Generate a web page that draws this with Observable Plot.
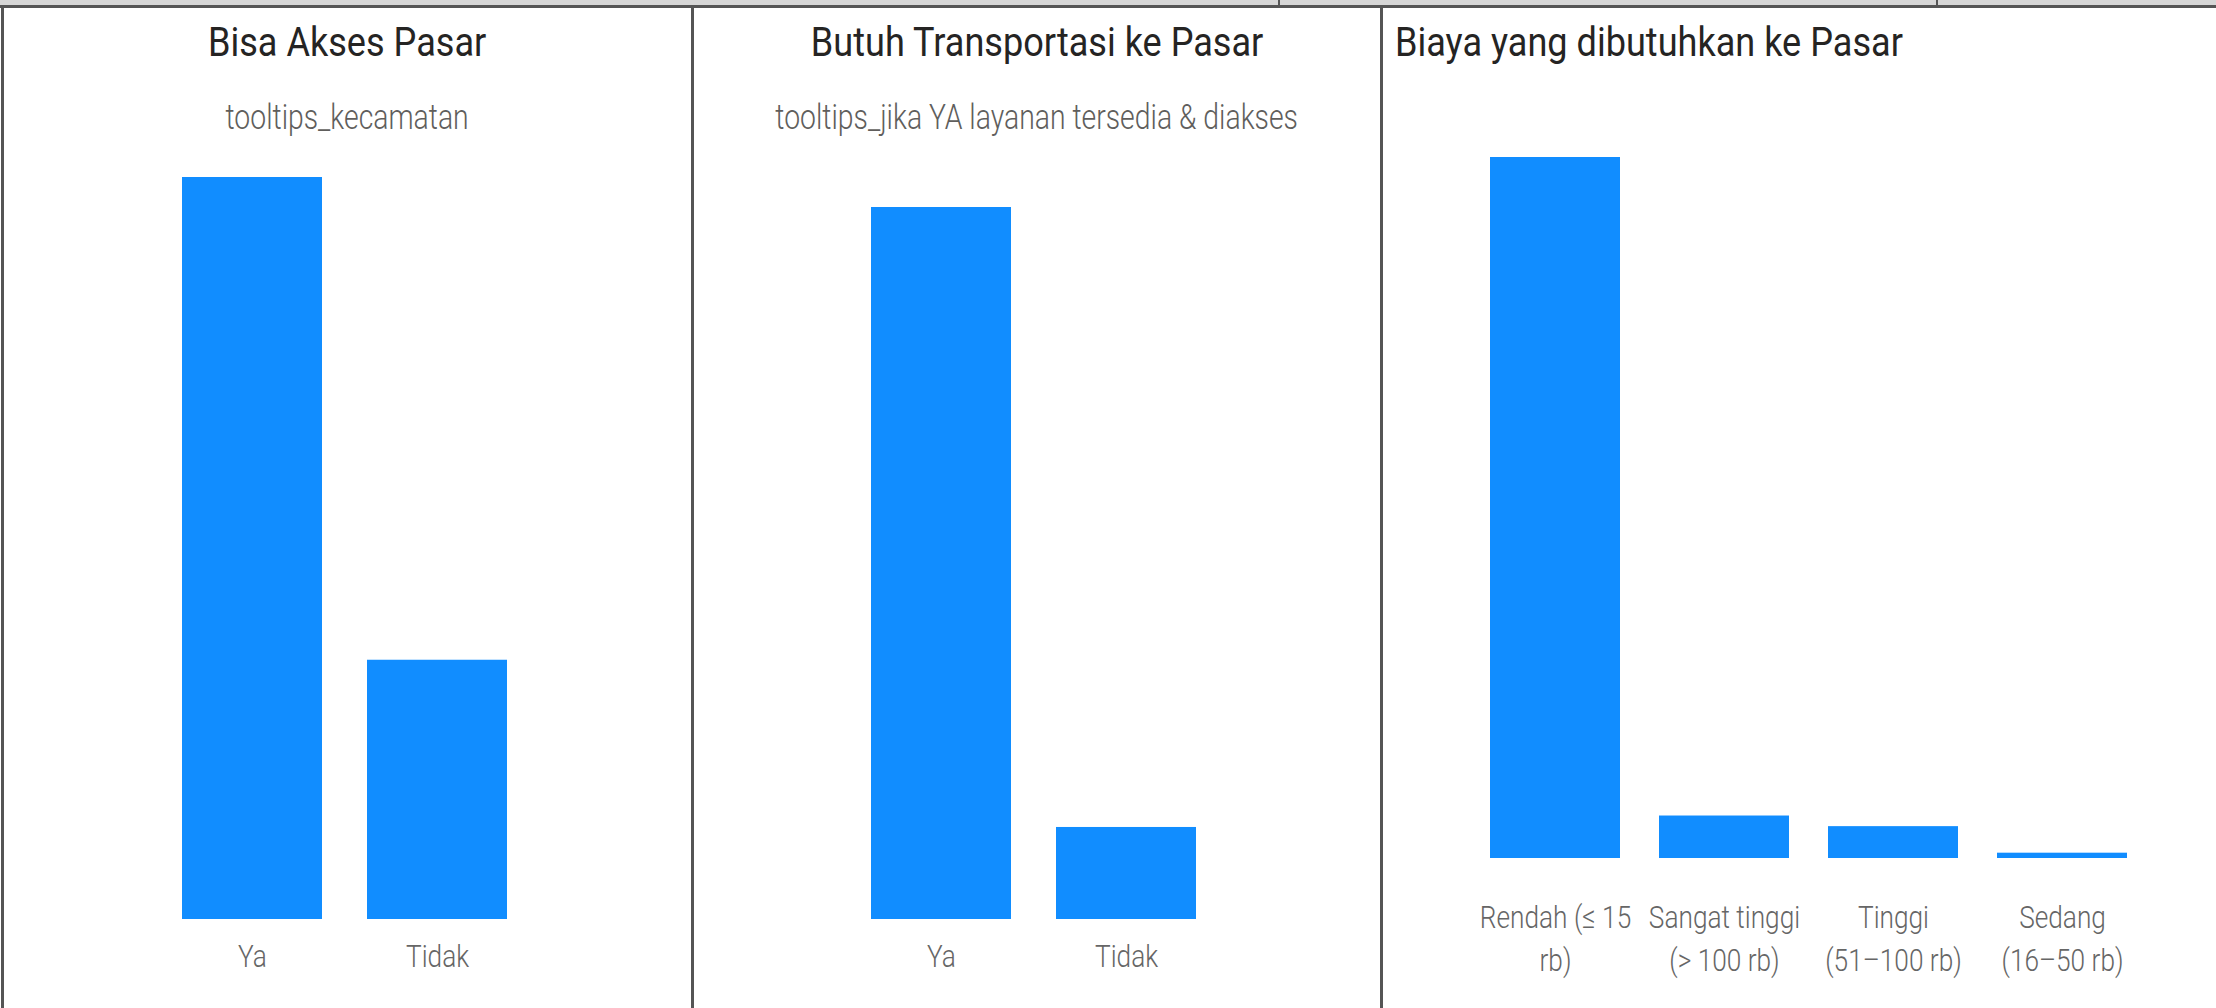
<!DOCTYPE html>
<html>
<head>
<meta charset="utf-8">
<script src="https://cdn.jsdelivr.net/npm/d3@7"></script>
<script src="https://cdn.jsdelivr.net/npm/@observablehq/plot@0.6"></script>
<style>
  html, body { margin: 0; padding: 0; background: #fff; }
  #page { position: relative; width: 2216px; height: 1008px; overflow: hidden; background: #fff;
          font-family: Roboto, "DejaVu Sans Condensed", sans-serif; }
  .line { position: absolute; background: #555; }
  .band { position: absolute; background: #d6d6d6; }
  .title { position: absolute; font-size: 41px; line-height: 41px; color: #252423; white-space: nowrap; }
  .sub { position: absolute; font-size: 35px; line-height: 35px; color: #605E5C; white-space: nowrap; font-weight: 300; }
  .title span, .sub span { display: inline-block; }
  .chart { position: absolute; }
</style>
</head>
<body>
<div id="page"></div>
<script>
// ---- data ----
const aksesCategories = ["Ya", "Tidak"];
const aksesValues = [166, 58];

const transportCategories = ["Ya", "Tidak"];
const transportValues = [147, 19];

const biayaCategories = ["Rendah (≤ 15 rb)", "Sangat tinggi (> 100 rb)", "Tinggi (51–100 rb)", "Sedang (16–50 rb)"];
const biayaValues = [132, 8, 6, 1];
const biayaTickLabels = ["Rendah (≤ 15\nrb)", "Sangat tinggi\n(> 100 rb)", "Tinggi\n(51–100 rb)", "Sedang\n(16–50 rb)"];

const titles = ["Bisa Akses Pasar", "Butuh Transportasi ke Pasar", "Biaya yang dibutuhkan ke Pasar"];
const subtitles = ["tooltips_kecamatan", "tooltips_jika YA layanan tersedia & diakses"];

// ---- layout ----
const page = document.getElementById("page");
const FONT = 'Roboto, "DejaVu Sans Condensed", sans-serif';
const BAR = "#118DFF";
const TITLE_SX = 0.88, SUB_SX = 0.81, TICK_SX = 0.82;

function el(cls, css, text, sx, origin) {
  const d = document.createElement("div");
  d.className = cls;
  Object.assign(d.style, css);
  if (text != null) {
    const s = document.createElement("span");
    s.textContent = text;
    s.style.transform = `scaleX(${sx})`;
    s.style.transformOrigin = origin || "center";
    d.appendChild(s);
  }
  page.appendChild(d);
  return d;
}

// frame of the visuals
el("band", {left: "0px", top: "0px", width: "2216px", height: "5px"});
el("line", {left: "0px", top: "5px", width: "2216px", height: "3px"});
el("line", {left: "1px", top: "5px", width: "3px", height: "1003px"});
el("line", {left: "691px", top: "5px", width: "3px", height: "1003px"});
el("line", {left: "1380px", top: "5px", width: "3px", height: "1003px"});
el("line", {left: "1278px", top: "0px", width: "2px", height: "6px"});
el("line", {left: "1936px", top: "0px", width: "2px", height: "6px"});

// panels: [left, width]
const panels = [[4, 687], [694, 686], [1383, 833]];

// titles
el("title", {left: panels[0][0] + "px", width: panels[0][1] + "px", top: "22px", textAlign: "center"}, titles[0], TITLE_SX);
el("title", {left: panels[1][0] + "px", width: panels[1][1] + "px", top: "22px", textAlign: "center"}, titles[1], TITLE_SX);
el("title", {left: "1395px", top: "22px"}, titles[2], TITLE_SX, "left");
el("sub", {left: panels[0][0] + "px", width: panels[0][1] + "px", top: "100px", textAlign: "center"}, subtitles[0], SUB_SX);
el("sub", {left: panels[1][0] + "px", width: panels[1][1] + "px", top: "100px", textAlign: "center"}, subtitles[1], SUB_SX);

const SVG_TOP = 140;
const SVG_H = 1008 - SVG_TOP;

function makeChart({left, width, cats, vals, ticks, topPx, bottomPx, x0, x1, padding, tickPadding, lineHeight}) {
  const data = cats.map((c, i) => ({cat: c, value: vals[i]}));
  const tickMap = new Map(cats.map((c, i) => [c, ticks ? ticks[i] : c]));
  const chart = Plot.plot({
    width: width,
    height: SVG_H,
    marginTop: topPx - SVG_TOP,
    marginBottom: 1008 - bottomPx,
    marginLeft: x0 - left,
    marginRight: left + width - x1,
    style: {fontFamily: FONT, fontSize: "32px", fontWeight: 300, color: "#666", background: "transparent"},
    x: {domain: cats, padding: padding, axis: null, label: null},
    y: {domain: [0, d3.max(vals)], axis: null},
    marks: [
      Plot.barY(data, {x: "cat", y: "value", fill: BAR}),
      Plot.axisX({tickSize: 0, tickPadding: tickPadding, fontSize: 32, lineHeight: lineHeight, label: null,
                  tickFormat: d => tickMap.get(d)})
    ]
  });
  chart.classList.add("chart");
  chart.style.left = left + "px";
  chart.style.top = SVG_TOP + "px";
  page.appendChild(chart);
  // narrow each tick label horizontally around its own centre
  const ns = "http://www.w3.org/2000/svg";
  Array.from(chart.querySelectorAll("text")).forEach(t => {
    const g = document.createElementNS(ns, "g");
    t.parentNode.insertBefore(g, t);
    g.appendChild(t);
    const bb = g.getBBox();
    const cx = bb.x + bb.width / 2;
    g.setAttribute("transform", `translate(${cx},0) scale(${TICK_SX},1) translate(${-cx},0)`);
  });
}

makeChart({left: panels[0][0], width: panels[0][1], cats: aksesCategories, vals: aksesValues,
           topPx: 177, bottomPx: 919, x0: 137, x1: 552, padding: 0.243, tickPadding: 17, lineHeight: 1.34});
makeChart({left: panels[1][0], width: panels[1][1], cats: transportCategories, vals: transportValues,
           topPx: 207, bottomPx: 919, x0: 826, x1: 1241, padding: 0.243, tickPadding: 17, lineHeight: 1.34});
makeChart({left: panels[2][0], width: panels[2][1], cats: biayaCategories, vals: biayaValues, ticks: biayaTickLabels,
           topPx: 157, bottomPx: 858, x0: 1450, x1: 2167, padding: 0.228, tickPadding: 39, lineHeight: 1.34});
</script>
</body>
</html>
